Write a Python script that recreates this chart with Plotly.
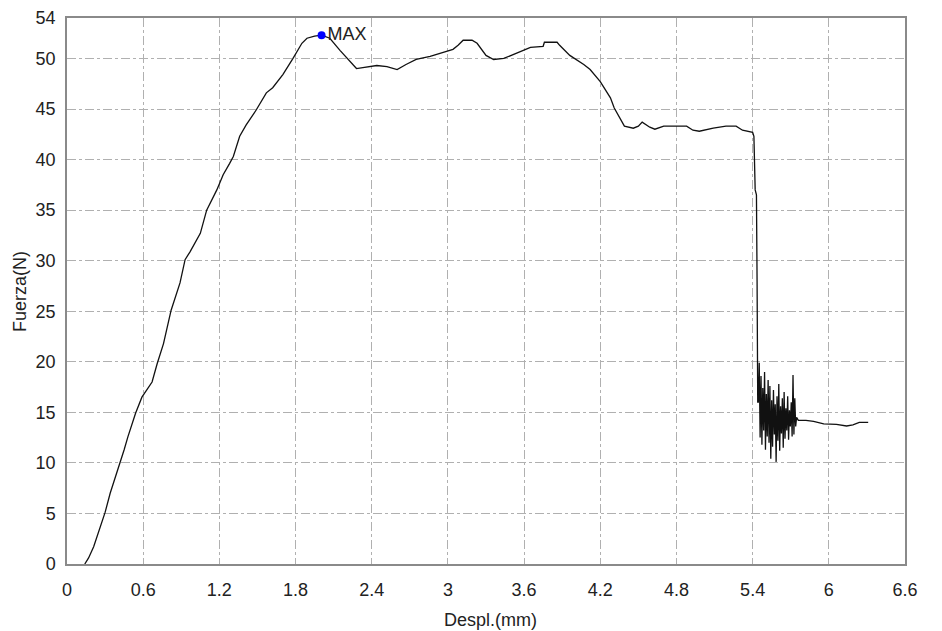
import plotly.graph_objects as go

# Main curve (rise, plateau, drop)
desp_main = [0.14, 0.17, 0.21, 0.25, 0.30, 0.34, 0.38, 0.42, 0.45, 0.48, 0.54, 0.59, 0.63, 0.67,
             0.71, 0.76, 0.82, 0.89, 0.93, 0.97, 1.05, 1.10, 1.18, 1.23, 1.28, 1.31, 1.36, 1.41,
             1.49, 1.57, 1.62, 1.70, 1.78, 1.85, 1.89, 1.95, 2.005, 2.07, 2.15, 2.23, 2.28, 2.33,
             2.44, 2.52, 2.60, 2.67, 2.75, 2.86, 2.96, 3.04, 3.08, 3.12, 3.19, 3.23, 3.30, 3.36,
             3.44, 3.54, 3.65, 3.75, 3.76, 3.86, 3.88, 3.96, 4.07, 4.12, 4.20, 4.28, 4.31, 4.39,
             4.46, 4.50, 4.53, 4.59, 4.63, 4.70, 4.80, 4.88, 4.93, 4.98, 5.09, 5.19, 5.27, 5.32,
             5.40, 5.41, 5.42, 5.43, 5.435, 5.435, 5.44, 5.44]
fuerza_main = [0.0, 0.6, 1.7, 3.2, 5.1, 7.0, 8.5, 10.0, 11.3, 12.6, 14.9, 16.5, 17.2, 18.0,
               19.8, 21.8, 25.1, 27.8, 30.1, 30.9, 32.7, 35.0, 37.0, 38.5, 39.6, 40.3, 42.3, 43.4,
               44.9, 46.6, 47.1, 48.4, 50.0, 51.5, 52.0, 52.2, 52.3, 52.0, 50.8, 49.7, 49.0, 49.1,
               49.3, 49.2, 48.9, 49.4, 49.9, 50.2, 50.6, 50.9, 51.3, 51.8, 51.8, 51.5, 50.3, 49.9,
               50.0, 50.5, 51.1, 51.2, 51.6, 51.6, 51.3, 50.3, 49.4, 48.9, 47.7, 46.1, 45.1, 43.3,
               43.1, 43.3, 43.7, 43.2, 43.0, 43.3, 43.3, 43.3, 42.9, 42.8, 43.1, 43.3, 43.3, 42.9,
               42.7, 42.3, 37.0, 36.5, 28.0, 23.8, 19.0, 16.0]

# Oscillating section after rupture
desp_noise = [5.445, 5.452, 5.459, 5.466, 5.473, 5.480, 5.487, 5.494, 5.501, 5.508, 5.515,
              5.522, 5.529, 5.536, 5.543, 5.550, 5.557, 5.564, 5.571, 5.578, 5.585, 5.592,
              5.599, 5.606, 5.613, 5.620, 5.627, 5.634, 5.641, 5.648, 5.655, 5.662, 5.669,
              5.676, 5.683, 5.690, 5.697, 5.704, 5.711, 5.718, 5.725, 5.732, 5.739, 5.746]
fuerza_noise = [16.0, 19.9, 12.5, 18.6, 11.8, 17.4, 13.2, 19.0, 11.3, 16.8, 12.6,
                18.2, 12.0, 17.6, 10.4, 16.2, 11.6, 17.2, 12.8, 15.8, 10.1, 16.6,
                12.2, 17.8, 11.2, 15.6, 12.9, 16.4, 11.5, 17.0, 12.4, 15.4, 13.2,
                16.6, 12.3, 15.2, 13.6, 16.0, 12.6, 18.7, 12.8, 16.4, 13.6, 14.5]

# Tail
desp_tail = [5.76, 5.82, 5.88, 5.96, 6.06, 6.14, 6.19, 6.24, 6.31]
fuerza_tail = [14.2, 14.2, 14.1, 13.85, 13.8, 13.65, 13.75, 14.0, 14.0]

max_x = [2.005]
max_y = [52.3]

x_ticks = [0, 0.6, 1.2, 1.8, 2.4, 3, 3.6, 4.2, 4.8, 5.4, 6, 6.6]
x_labels = ["0", "0.6", "1.2", "1.8", "2.4", "3", "3.6", "4.2", "4.8", "5.4", "6", "6.6"]
y_ticks = [0, 5, 10, 15, 20, 25, 30, 35, 40, 45, 50, 54]

desp = desp_main + desp_noise + desp_tail
fuerza = fuerza_main + fuerza_noise + fuerza_tail

FONT = "Liberation Sans, Arial, sans-serif"
FS = 18
TXT = "#222222"

fig = go.Figure()
fig.add_trace(go.Scatter(x=desp, y=fuerza, mode="lines",
                         line=dict(color="#111111", width=1.3), showlegend=False))
fig.add_trace(go.Scatter(x=max_x, y=max_y, mode="markers+text", text=["MAX"],
                         textposition="middle right",
                         textfont=dict(family=FONT, size=FS, color=TXT),
                         marker=dict(color="#0000ff", size=8), showlegend=False))

axis_common = dict(showline=True, linecolor="#8a8a8a", linewidth=1.5, mirror=True,
                   showgrid=True, gridcolor="#b0b0b0", gridwidth=1, griddash="dashdot",
                   zeroline=False, ticks="", automargin=False,
                   tickfont=dict(family=FONT, size=FS, color=TXT))

fig.update_xaxes(range=[0, 6.6], tickvals=x_ticks, ticktext=x_labels,
                 ticklabelstandoff=9, **axis_common)
fig.update_yaxes(range=[0, 54], tickvals=y_ticks,
                 ticklabelstandoff=6, **axis_common)

fig.add_annotation(text="Despl.(mm)", xref="paper", yref="paper",
                   x=0.505, y=-0.1026, xanchor="center", yanchor="middle",
                   showarrow=False, font=dict(family=FONT, size=FS, color=TXT))
fig.add_annotation(text="Fuerza(N)", xref="paper", yref="paper",
                   x=-0.0561, y=0.5, xanchor="center", yanchor="middle", textangle=-90,
                   showarrow=False, font=dict(family=FONT, size=FS, color=TXT))

# page body has an 8px default margin, so the figure is sized to fit the window
fig.update_layout(width=934, height=623,
                  margin=dict(l=59, r=37, t=10, b=67),
                  paper_bgcolor="white", plot_bgcolor="white",
                  font=dict(family=FONT))

fig.write_html("out.html")
